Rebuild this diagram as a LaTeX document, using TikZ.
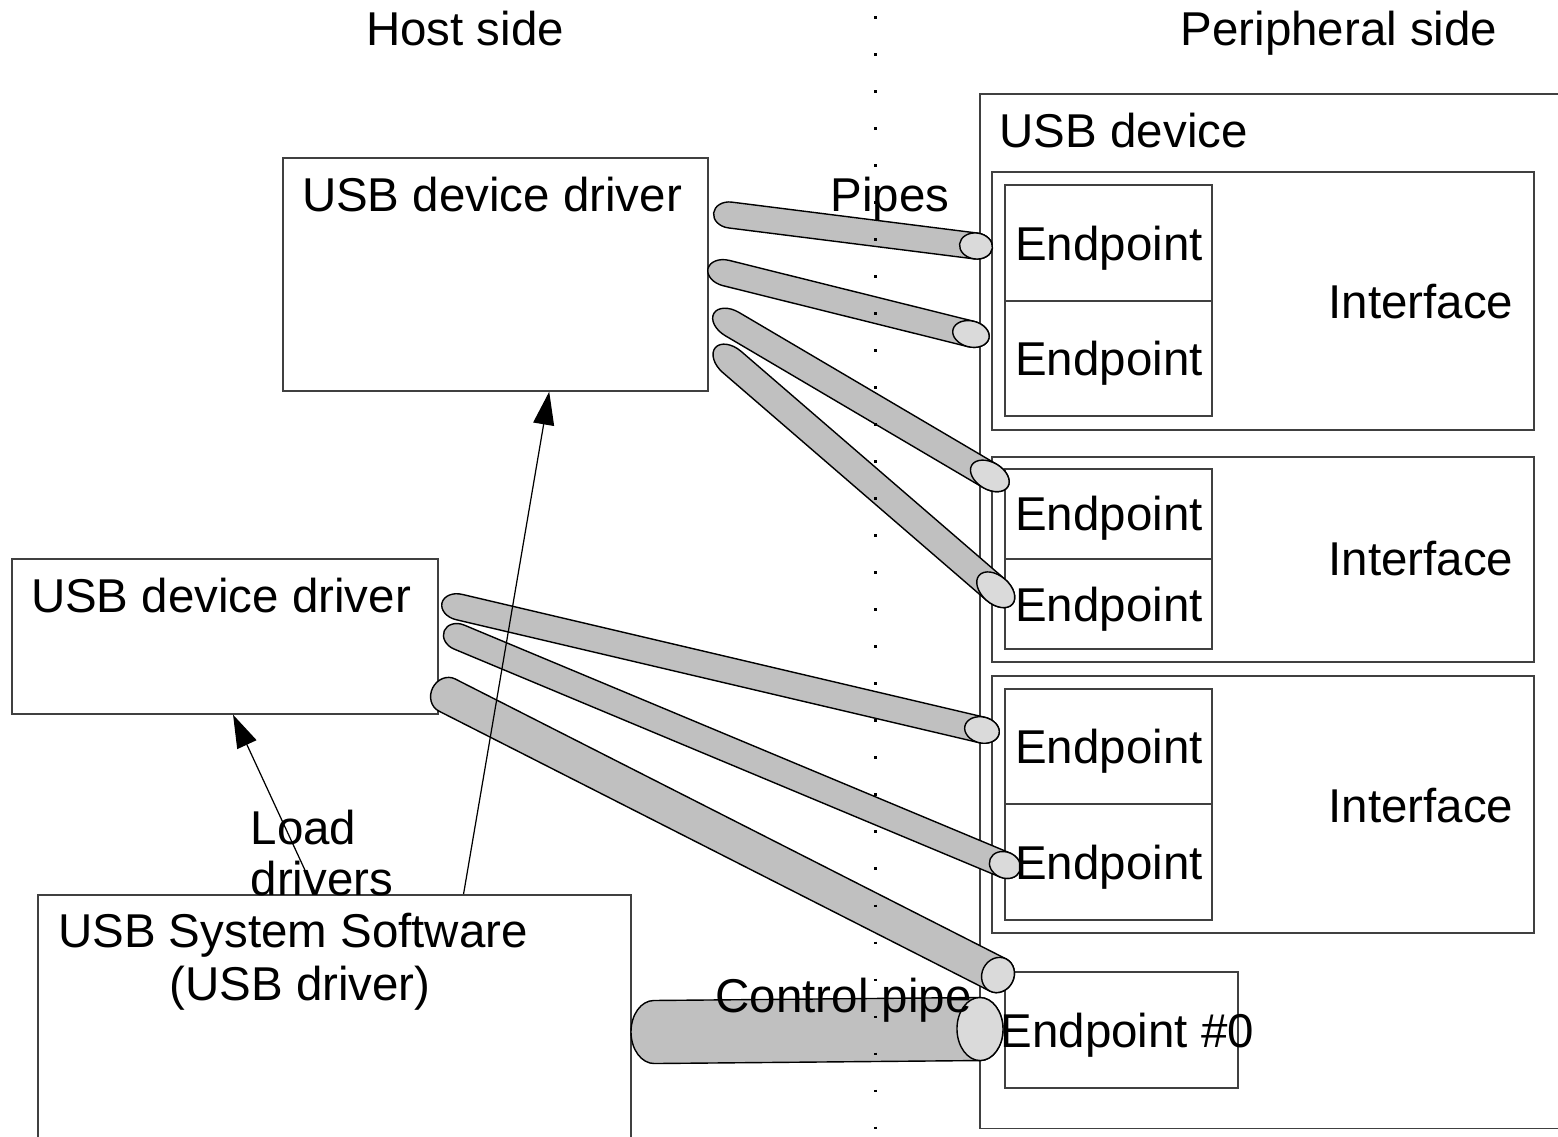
\documentclass[tikz,border=0pt]{standalone}
\usepackage{fontspec}
\setmainfont{Liberation Sans}
\usetikzlibrary{calc,arrows.meta}
\definecolor{pipegray}{RGB}{192,192,192}
\definecolor{pipelight}{RGB}{218,218,218}
\newcommand\drawpipe[4]{%
  \path let \p1=($(#2)-(#1)$) in \pgfextra{%
    \pgfmathparse{atan2(\y1,\x1)}\xdef\pipeang{\pgfmathresult}%
    \pgfmathparse{veclen(\x1,\y1)}\xdef\pipelen{\pgfmathresult}};
  \begin{scope}[shift={(#1)},rotate=\pipeang]
    \draw[pipebody] (0,#3cm) -- (\pipelen pt,#3cm)
      arc[start angle=90,end angle=-90,x radius=#4cm,y radius=#3cm]
      -- (0,-#3cm)
      arc[start angle=-90,end angle=-270,x radius=#4cm,y radius=#3cm] -- cycle;
    \draw[pipeend] (\pipelen pt,0) ellipse[x radius=#4cm,y radius=#3cm];
  \end{scope}}
\begin{document}
\begin{tikzpicture}[x=0.01cm,y=-0.01cm,
  boxst/.style={draw=black!75, line width=0.45pt, inner sep=0pt, anchor=north west},
  pipebody/.style={draw=black, line width=0.4pt, fill=pipegray},
  pipeend/.style={draw=black, line width=0.4pt, fill=pipelight},
  lbl/.style={inner sep=0pt, anchor=base, font=\fontsize{13.5pt}{16pt}\selectfont},
  arr/.style={draw=black, line width=0.35pt, -{Triangle[length=0.33cm,width=0.21cm]}},
  dotline/.style={draw=black, line width=0.85pt, dash pattern=on 0.028cm off 0.342cm}]
\useasboundingbox (0,0) rectangle (1558,1136);
\clip (0,0) rectangle (1558,1136);
% boxes
\node[boxst, minimum width=6.3cm, minimum height=10.34cm] (dev) at (979,93) {};
\node[boxst, minimum width=4.25cm, minimum height=2.33cm] (drvA) at (282,157) {};
\node[boxst, minimum width=4.26cm, minimum height=1.55cm] (drvB) at (11,558) {};
\node[boxst, minimum width=5.93cm, minimum height=2.7cm] (sys) at (37,894) {};
\node[boxst, minimum width=5.42cm, minimum height=2.58cm] (if1) at (991,171) {};
\node[boxst, minimum width=2.07cm, minimum height=1.16cm] (ep1a) at (1004,184) {};
\node[boxst, minimum width=2.07cm, minimum height=1.15cm] (ep1b) at (1004,300) {};
\node[boxst, minimum width=5.42cm, minimum height=2.05cm] (if2) at (991,456) {};
\node[boxst, minimum width=2.07cm, minimum height=0.90cm] (ep2a) at (1004,468) {};
\node[boxst, minimum width=2.07cm, minimum height=0.90cm] (ep2b) at (1004,558) {};
\node[boxst, minimum width=5.42cm, minimum height=2.57cm] (if3) at (991,675) {};
\node[boxst, minimum width=2.07cm, minimum height=1.15cm] (ep3a) at (1004,688) {};
\node[boxst, minimum width=2.07cm, minimum height=1.16cm] (ep3b) at (1004,803) {};
\node[boxst, minimum width=2.33cm, minimum height=1.16cm] (ep0) at (1004,971) {};
% pipe end points
\coordinate (p1a) at (730,215);  \coordinate (p1b) at (976,246);
\coordinate (p2a) at (726,273);  \coordinate (p2b) at (971,334);
\coordinate (p3a) at (732,324);  \coordinate (p3b) at (990,476);
\coordinate (p4a) at (732,362);  \coordinate (p4b) at (996,590);
\coordinate (p5a) at (459,607);  \coordinate (p5b) at (982,730);
\coordinate (p6a) at (459,637);  \coordinate (p6b) at (1005,865);
\coordinate (p7a) at (447,695);  \coordinate (p7b) at (998,975);
\coordinate (p0a) at (654,1032); \coordinate (p0b) at (980,1029);
\drawpipe{p1a}{p1b}{0.13}{0.165}
\drawpipe{p2a}{p2b}{0.13}{0.185}
\drawpipe{p3a}{p3b}{0.135}{0.21}
\drawpipe{p4a}{p4b}{0.14}{0.22}
\drawpipe{p5a}{p5b}{0.13}{0.175}
\drawpipe{p6a}{p6b}{0.13}{0.16}
\drawpipe{p7a}{p7b}{0.18}{0.16}
\drawpipe{p0a}{p0b}{0.315}{0.23}
% separator
\coordinate (sepT) at (875,16);
\coordinate (sepB) at (875,1140);
\draw[dotline] (sepT) -- (sepB);
% arrows
\draw[arr] ($(sys.north west)!0.717!(sys.north east)$) -- ($(drvA.south west)!0.626!(drvA.south east)$);
\draw[arr] ($(sys.north west)!0.469!(sys.north east)$) -- ($(drvB.south west)!0.519!(drvB.south east)$);
% labels
\node[lbl] (thost) at (465,45) {Host side};
\node[lbl] (tper) at (1339,45) {Peripheral side};
\node[lbl, anchor=base west] (tdev) at (999,147) {USB device};
\node[lbl] (tdrvA) at (492,211) {USB device driver};
\node[lbl, anchor=base west] (tpipes) at (830,211) {Pipes};
\node[lbl] (tdrvB) at (221,612) {USB device driver};
\node[lbl, anchor=base west] (tload1) at (250,844) {Load};
\node[lbl, anchor=base west] (tload2) at (250,895) {drivers};
\node[lbl] (tsys1) at (293,947) {USB System Software};
\node[lbl] (tsys2) at (300,1000) {(USB driver)};
\node[lbl, anchor=base west] (tctl) at (715,1012) {Control pipe};
\node[lbl, anchor=base west] (tep0) at (1000,1047) {Endpoint \#0};
\node[lbl] (tep1a) at (1109,260) {Endpoint};
\node[lbl] (tep1b) at (1109,375) {Endpoint};
\node[lbl] (tep2a) at (1109,530) {Endpoint};
\node[lbl] (tep2b) at (1109,621) {Endpoint};
\node[lbl] (tep3a) at (1109,763) {Endpoint};
\node[lbl] (tep3b) at (1109,879) {Endpoint};
\node[lbl] (tif1) at (1421,318) {Interface};
\node[lbl] (tif2) at (1421,575) {Interface};
\node[lbl] (tif3) at (1421,822) {Interface};
\end{tikzpicture}
\end{document}
